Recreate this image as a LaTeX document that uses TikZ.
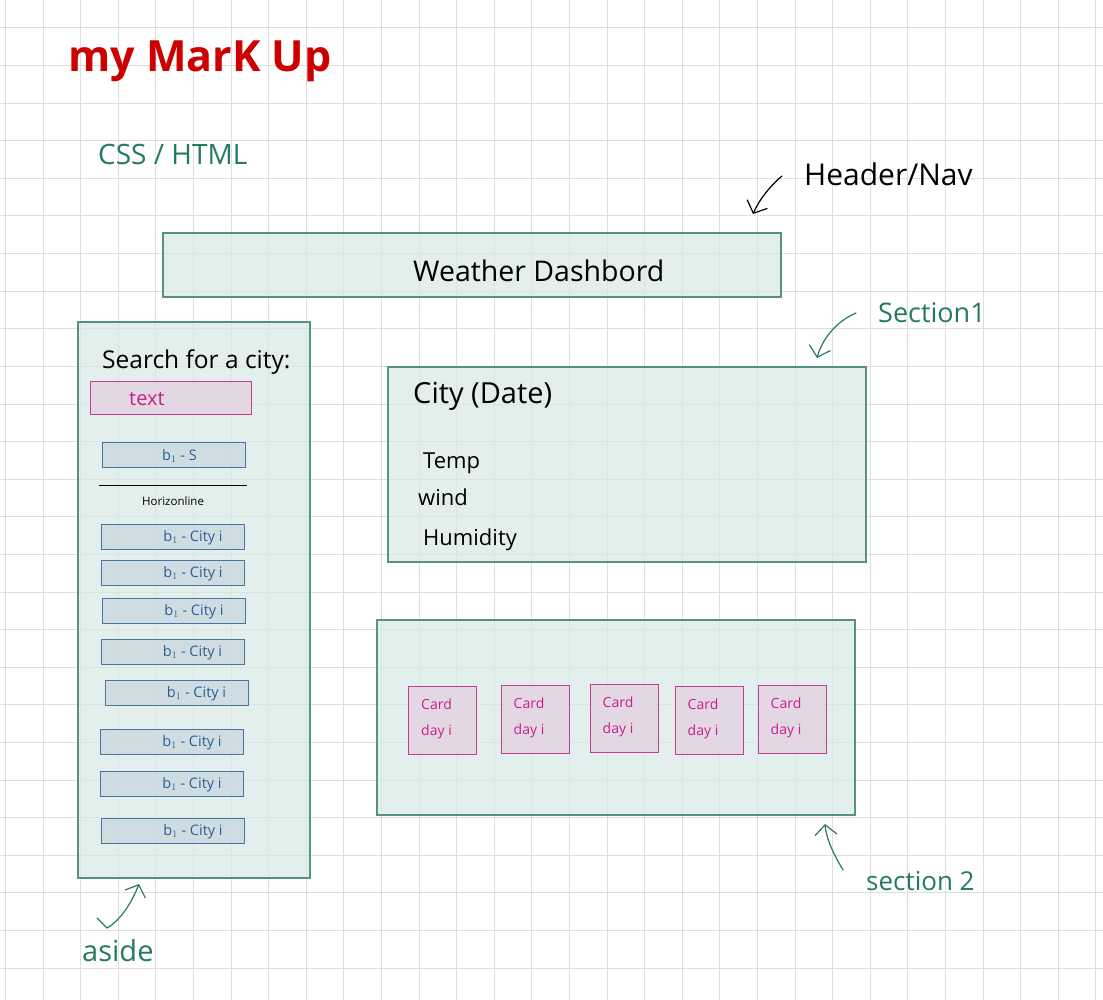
\documentclass[tikz,border=0pt]{standalone}
\usepackage{fontspec}
\setmainfont{Open Sans}
\usetikzlibrary{positioning}
\usetikzlibrary{arrows.meta}

\definecolor{gridgray}{RGB}{222,222,222}
\definecolor{paneline}{RGB}{84,146,130}
\definecolor{panefill}{RGB}{214,233,228}
\definecolor{pinkline}{RGB}{196,60,150}
\definecolor{pinkfill}{RGB}{229,211,227}
\definecolor{pinktext}{RGB}{200,30,140}
\definecolor{btnline}{RGB}{72,118,158}
\definecolor{btnfill}{RGB}{204,219,226}
\definecolor{btntext}{RGB}{45,95,150}
\definecolor{noteteal}{RGB}{38,122,100}
\definecolor{markred}{RGB}{204,0,0}

\begin{document}
\begin{tikzpicture}[ x = 1pt, y = -1pt
                   , >={Straight Barb[length=10pt, width=22pt]}
                   , pane/.style = { rectangle
                                   , draw = paneline
                                   , fill = panefill
                                   , fill opacity = 0.7
                                   , line width = 1.1pt
                                   , inner sep = 0pt }
                   , field/.style = { rectangle
                                    , draw = pinkline
                                    , fill = pinkfill
                                    , fill opacity = 0.85
                                    , line width = 1pt
                                    , inner sep = 0pt }
                   , btn/.style = { rectangle
                                  , draw = btnline
                                  , fill = btnfill
                                  , fill opacity = 0.85
                                  , line width = 1pt
                                  , inner sep = 0pt
                                  , minimum width = 143pt
                                  , minimum height = 25pt }
                   , card/.style = { field
                                   , minimum width = 68pt
                                   , minimum height = 68pt }
                   , ink/.style = { inner sep = 0pt
                                  , anchor = base west
                                  , text = black }
                   , note/.style = { ink, text = noteteal }
                   , annot/.style = { ->
                                    , line width = 1.2pt
                                    , line cap = round }
                   ]

  %%
  %% Paper
  %%
  \path[use as bounding box] (0, 0) rectangle (1103, 1000);
  \fill[white] (0, 0) rectangle (1103, 1000);
  \foreach \k in {0,...,29}
    \draw[gridgray, line width = 1pt] (5.4 + 37.6*\k, 0) -- (5.4 + 37.6*\k, 1000);
  \foreach \k in {0,...,25}
    \draw[gridgray, line width = 1pt] (0, 28 + 37.6*\k) -- (1103, 28 + 37.6*\k);

  %%
  %% Panes
  %%
  \node (header) [pane, minimum width = 618pt, minimum height = 64pt] at (472, 265) {};
  \node (aside) [pane, minimum width = 232pt, minimum height = 556pt] at (194, 600) {};
  \node (sec1) [pane, minimum width = 478pt, minimum height = 195pt] at (627, 464.5) {};
  \node (sec2) [pane, minimum width = 478pt, minimum height = 195pt] at (616, 717.5) {};

  %%
  %% Aside content
  %%
  \node (search) [field, minimum width = 161pt, minimum height = 33pt] at (170.5, 397.5) {};
  \node (btns) [btn] at (173.5, 454.5) {};
  \foreach \i/\x/\y in {1/173/536.5, 2/173/573, 3/174/611, 4/172.5/651.5,
                        5/176.5/692.5, 6/172/741.5, 7/172/783.5, 8/173/831}
  {
    \node (city\i) [btn] at (\x, \y) {};
    \node [text = btntext, font = \fontsize{14.5}{16}\selectfont, inner sep = 0pt]
      at ([xshift = 20pt, yshift = -1pt]city\i.center) {b$_1$ - City i};
  }
  \coordinate (hrleft) at (99, 485);
  \coordinate (hrright) at (247, 485);
  \draw[line width = 0.9pt] (hrleft) -- (hrright);

  % Cards of section 2
  \foreach \i/\x/\y in {1/442.5/720, 2/535/719, 3/624/718, 4/709/720, 5/792/719}
  {
    \node (card\i) [card] at (\x, \y) {};
    \node [ink, text = pinktext, align = left, anchor = north west,
           font = \fontsize{14}{26}\selectfont]
      at ([xshift = 13pt, yshift = -13pt]card\i.north west) {Card\\day i};
  }

  %%
  %% Texts
  %%
  \node (title) [ink, text = markred, font = \fontsize{43}{50}\selectfont\bfseries] at (68, 72) {my MarK Up};
  \node (css) [note, font = \fontsize{28}{34}\selectfont] at (98, 165) {CSS / HTML};
  \node (hdrlbl) [ink, font = \fontsize{30}{36}\selectfont] at (804, 186) {Header/Nav};
  \node (sec1lbl) [note, font = \fontsize{27}{32}\selectfont] at (878, 323) {Section1};
  \node (sec2lbl) [note, font = \fontsize{26}{32}\selectfont] at (866, 890) {section 2};
  \node (asidelbl) [note, font = \fontsize{29}{34}\selectfont] at (82, 961) {aside};

  \node (hdrtext) [ink, font = \fontsize{28.5}{34}\selectfont] at (413, 282) {Weather Dashbord};
  \node (searchlbl) [ink, font = \fontsize{24.5}{30}\selectfont] at (102, 368) {Search for a city:};
  \node (fieldtext) [ink, text = pinktext, font = \fontsize{20}{24}\selectfont] at (129, 405) {text};
  \node (btnstext) [ink, text = btntext, font = \fontsize{14.5}{16}\selectfont] at (162, 460) {b$_1$ - S};
  \node (hrtext) [ink, font = \fontsize{11.5}{14}\selectfont] at (142, 505) {Horizonline};

  \node (citydate) [ink, font = \fontsize{29}{34}\selectfont] at (413, 403) {City (Date)};
  \node (temp) [ink, font = \fontsize{22}{26}\selectfont] at (423, 468) {Temp};
  \node (wind) [ink, font = \fontsize{22}{26}\selectfont] at (418, 505) {wind};
  \node (humid) [ink, font = \fontsize{22}{26}\selectfont] at (423, 545) {Humidity};

  %%
  %% Pointers from the notes to the panes
  %%
  \coordinate (hdrfrom) at (782, 176);
  \coordinate (hdrto) at (753, 214);
  \coordinate (sec1from) at (856, 313);
  \coordinate (sec1to) at (817, 358);
  \coordinate (sec2from) at (843, 870);
  \coordinate (sec2to) at (825, 824);
  \coordinate (asidefrom) at (97, 918);
  \coordinate (asidebend) at (107, 928);
  \coordinate (asideto) at (139, 884);

  \draw[annot] (hdrfrom) .. controls (770, 186) and (759, 200) .. (hdrto);
  \draw[annot, noteteal] (sec1from) .. controls (835, 322) and (822, 340) .. (sec1to);
  \draw[annot, noteteal] (sec2from) .. controls (831, 850) and (826, 836) .. (sec2to);
  \draw[annot, noteteal] (asidefrom) -- (asidebend)
                         .. controls (121, 920) and (132, 902) .. (asideto);
\end{tikzpicture}
\end{document}
